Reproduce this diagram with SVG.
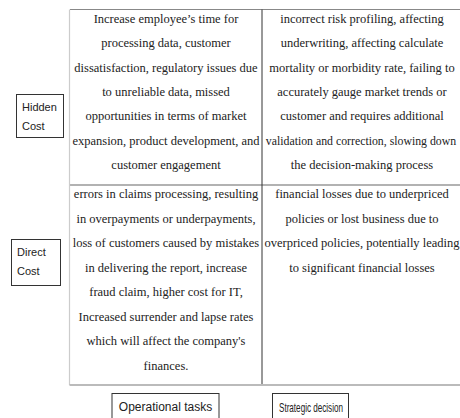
<svg xmlns="http://www.w3.org/2000/svg" width="460" height="418" viewBox="0 0 460 418">
<style>
.cell{font-family:"Liberation Serif","Times New Roman",serif;font-size:12.5px;fill:#222;text-anchor:middle}
.lbl{font-family:"Liberation Sans",Arial,sans-serif;font-size:11px;fill:#222}
.box{fill:#fff;stroke:#333;stroke-width:1}
</style>
<rect width="460" height="418" fill="#fff"/>
<g id="table">
<line x1="70" y1="9.5" x2="460" y2="9.5" stroke="#888" stroke-width="1.2"/>
<line x1="70" y1="185" x2="460" y2="185" stroke="#666" stroke-width="1.2"/>
<line x1="69.5" y1="9.5" x2="69.5" y2="385" stroke="#ccc" stroke-width="1.2"/>
<line x1="262" y1="9.5" x2="262" y2="385" stroke="#333" stroke-width="1"/>
<line x1="69.5" y1="385" x2="460" y2="385" stroke="#bbb" stroke-width="2"/>
</g>
<g id="cell-hidden-operational">
<text class="cell" x="166" y="23">Increase employee’s time for</text>
<text class="cell" x="166" y="47">processing data, customer</text>
<text class="cell" x="166" y="71.5">dissatisfaction, regulatory issues due</text>
<text class="cell" x="166" y="96">to unreliable data, missed</text>
<text class="cell" x="166" y="120">opportunities in terms of market</text>
<text class="cell" x="166" y="144.5">expansion, product development, and</text>
<text class="cell" x="166" y="169">customer engagement</text>
</g>
<g id="cell-hidden-strategic">
<text class="cell" x="362" y="23">incorrect risk profiling, affecting</text>
<text class="cell" x="362" y="47">underwriting, affecting calculate</text>
<text class="cell" x="362" y="71.5">mortality or morbidity rate, failing to</text>
<text class="cell" x="362" y="96">accurately gauge market trends or</text>
<text class="cell" x="362" y="120">customer and requires additional</text>
<text class="cell" x="361" y="144.5" style="font-size:11.8px">validation and correction, slowing down</text>
<text class="cell" x="362" y="169">the decision-making process</text>
</g>
<g id="cell-direct-operational">
<text class="cell" x="166" y="198">errors in claims processing, resulting</text>
<text class="cell" x="166" y="222.5">in overpayments or underpayments,</text>
<text class="cell" x="166" y="247">loss of customers caused by mistakes</text>
<text class="cell" x="166" y="271.5">in delivering the report, increase</text>
<text class="cell" x="166" y="296">fraud claim, higher cost for IT,</text>
<text class="cell" x="166" y="320.5">Increased surrender and lapse rates</text>
<text class="cell" x="166" y="345">which will affect the company's</text>
<text class="cell" x="166" y="370">finances.</text>
</g>
<g id="cell-direct-strategic">
<text class="cell" x="362" y="198">financial losses due to underpriced</text>
<text class="cell" x="362" y="222.5">policies or lost business due to</text>
<text class="cell" x="362" y="247">overpriced policies, potentially leading</text>
<text class="cell" x="362" y="271.5">to significant financial losses</text>
</g>
<g id="hidden-cost">
<rect class="box" x="16.5" y="94.5" width="47" height="43"/>
<text class="lbl" x="22" y="111">Hidden</text>
<text class="lbl" x="22" y="130">Cost</text>
</g>
<g id="direct-cost">
<rect class="box" x="11.5" y="239.5" width="49" height="46"/>
<text class="lbl" x="17" y="256">Direct</text>
<text class="lbl" x="17" y="275">Cost</text>
</g>
<g id="operational-tasks">
<rect class="box" x="112" y="393.5" width="107" height="30"/>
<text class="lbl" x="165.5" y="411" text-anchor="middle" style="font-size:12px">Operational tasks</text>
</g>
<g id="strategic-decision">
<rect class="box" x="272.5" y="393.5" width="76" height="30"/>
<text class="lbl" x="311" y="412" text-anchor="middle" textLength="64" lengthAdjust="spacingAndGlyphs" style="font-size:13px">Strategic decision</text>
</g>
</svg>
